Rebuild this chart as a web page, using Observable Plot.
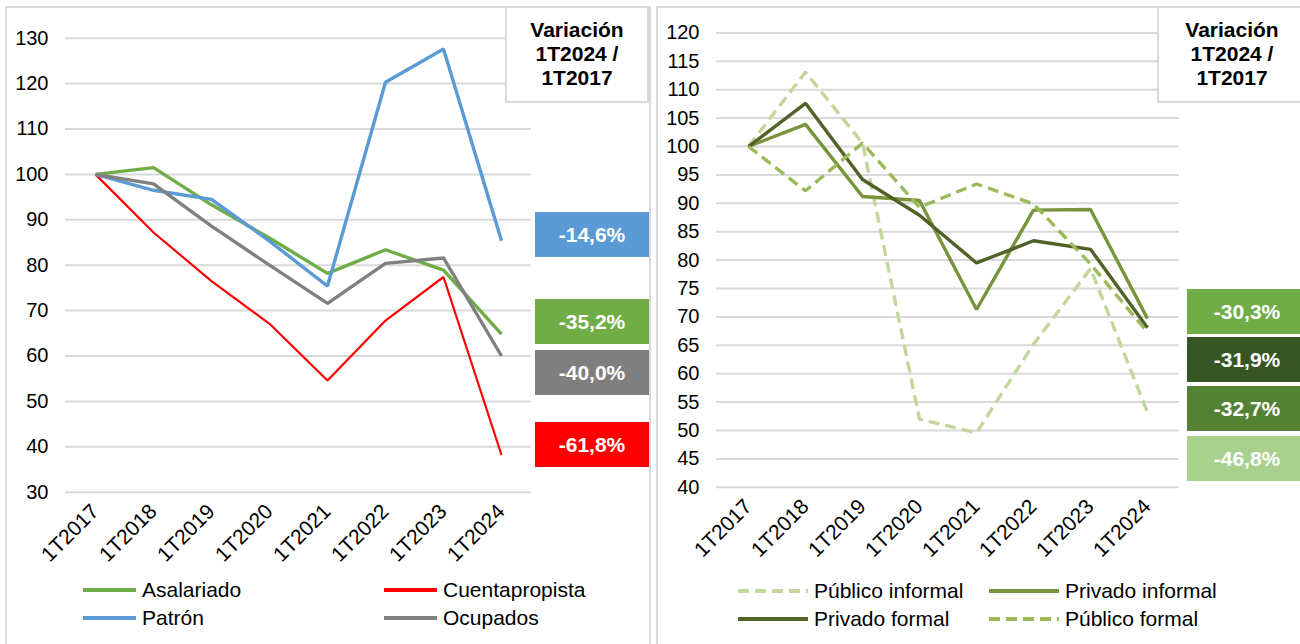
<!DOCTYPE html>
<html>
<head>
<meta charset="utf-8">
<script src="https://cdn.jsdelivr.net/npm/d3@7"></script>
<script src="https://cdn.jsdelivr.net/npm/@observablehq/plot@0.6"></script>
<style>
  html, body { margin: 0; padding: 0; background: #fff; }
  body { width: 1300px; height: 644px; position: relative; overflow: hidden;
         font-family: "Liberation Sans", Arial, sans-serif; color: #000; }
  .panel { position: absolute; top: 6px; height: 660px; box-sizing: border-box;
           border: 2px solid #d9d9d9; background: #fff; }
  .plot { position: absolute; top: 0; }
  .varbox { position: absolute; top: 6px; height: 97px; box-sizing: border-box;
            border: 2px solid #d9d9d9; background: #fff; text-align: center;
            font-weight: bold; font-size: 21px; line-height: 24px; padding-top: 10px; }
  .pbox { position: absolute; height: 45px; line-height: 45px; color: #fff;
          font-weight: bold; font-size: 21px; text-align: center; }
  .leg { position: absolute; height: 24px; display: flex; align-items: center;
         font-size: 21px; line-height: 24px; white-space: nowrap; }
  .leg svg { margin-right: 6px; }
</style>
</head>
<body>
<div class="panel" style="left:5px; width:646px;"></div>
<div class="panel" style="left:656px; width:660px;"></div>
<div id="left" class="plot" style="left:0px;"></div>
<div id="right" class="plot" style="left:650px;"></div>
<script>
// ---------------- DATA ----------------
const categories = ["1T2017","1T2018","1T2019","1T2020","1T2021","1T2022","1T2023","1T2024"];

// Left chart series
const leftNames = ["Asalariado", "Cuentapropista", "Patrón", "Ocupados"];
const asalariado     = [100, 101.5, 93.3, 86.0, 78.2, 83.4, 78.9, 64.8];
const cuentapropista = [100, 87.2, 76.5, 67.1, 54.6, 67.8, 77.4, 38.2];
const patron         = [100, 96.5, 94.5, 85.3, 75.4, 120.3, 127.6, 85.4];
const ocupados       = [100, 97.9, 88.6, 80.0, 71.6, 80.4, 81.6, 60.0];
const leftTicks = [30, 40, 50, 60, 70, 80, 90, 100, 110, 120, 130];

// Right chart series
const rightNames = ["Público informal", "Privado informal", "Privado formal", "Público formal"];
const publicoInformal = [100, 113.1, 100.6, 52.0, 49.6, 65.2, 78.5, 53.2];
const privadoInformal = [100, 103.9, 91.2, 90.5, 71.3, 88.8, 88.9, 69.7];
const privadoFormal   = [100, 107.6, 94.2, 87.9, 79.5, 83.4, 81.9, 68.1];
const publicoFormal   = [100, 92.2, 100.6, 89.3, 93.4, 89.9, 79.3, 67.3];
const rightTicks = [40, 45, 50, 55, 60, 65, 70, 75, 80, 85, 90, 95, 100, 105, 110, 115, 120];

const boxTitle = ["Variación", "1T2024 /", "1T2017"];

// ---------------- STYLES / LAYOUT ----------------
const FONT = "Liberation Sans, Arial, sans-serif";
const leftStyle = {
  "Asalariado":     {stroke: "#70ad47", width: 3.4, box: "#70ad47"},
  "Cuentapropista": {stroke: "#ff0000", width: 2.2, box: "#ff0000"},
  "Patrón":         {stroke: "#5b9bd5", width: 3.4, box: "#5b9bd5"},
  "Ocupados":       {stroke: "#808080", width: 3.4, box: "#7f7f7f"}
};
const rightStyle = {
  "Público informal": {stroke: "#c3d69b", width: 3.4, dash: "11,6", box: "#a9d18e"},
  "Privado informal": {stroke: "#77933c", width: 3.4, dash: null,   box: "#70ad47"},
  "Privado formal":   {stroke: "#4f6228", width: 3.4, dash: null,   box: "#375623"},
  "Público formal":   {stroke: "#9bbb59", width: 3.4, dash: "11,6", box: "#548235"}
};
// label placement (value units on each chart's y scale) for the variation boxes
const leftBoxAt  = {"Patrón": 86.6, "Asalariado": 67.5, "Ocupados": 56.2, "Cuentapropista": 40.5};
const rightBoxAt = {"Privado informal": 70.95, "Privado formal": 62.5, "Público formal": 53.8, "Público informal": 45.0};

function rows(names, arrays) {
  const out = [];
  names.forEach((n, k) => arrays[k].forEach((v, i) => out.push({serie: n, cat: categories[i], value: v})));
  return out;
}
const leftRows  = rows(leftNames, [asalariado, cuentapropista, patron, ocupados]);
const rightRows = rows(rightNames, [publicoInformal, privadoInformal, privadoFormal, publicoFormal]);
const leftArrays  = {"Asalariado": asalariado, "Cuentapropista": cuentapropista, "Patrón": patron, "Ocupados": ocupados};
const rightArrays = {"Público informal": publicoInformal, "Privado informal": privadoInformal, "Privado formal": privadoFormal, "Público formal": publicoFormal};

const fmtPct = (a) => {
  const p = (a[a.length - 1] / a[0] - 1) * 100;
  return (Math.round(p * 10) / 10).toFixed(1).replace(".", ",") + "%";
};

function makeChart({rowsData, names, styles, ticks, domain, mL, mR, mT, mB}) {
  const lineMarks = names.map(n => Plot.line(rowsData.filter(d => d.serie === n), {
    x: "cat", y: "value", stroke: styles[n].stroke, strokeWidth: styles[n].width,
    strokeDasharray: styles[n].dash || undefined, strokeLinejoin: "miter", strokeLinecap: "butt"
  }));
  return Plot.plot({
    width: 650, height: 644,
    marginLeft: mL, marginRight: mR, marginTop: mT, marginBottom: mB,
    x: {type: "point", domain: categories, padding: 0.5, axis: null},
    y: {domain, axis: null},
    style: {fontFamily: FONT, background: "transparent", color: "#000", overflow: "visible"},
    marks: [
      Plot.gridY(ticks, {stroke: "#d9d9d9", strokeOpacity: 1, strokeWidth: 2}),
      Plot.axisY(ticks, {tickSize: 0, tickPadding: 17, fontSize: 20, fill: "#000", label: null}),
      ...lineMarks,
      Plot.text(categories, {x: d => d, frameAnchor: "bottom", rotate: -45, textAnchor: "end",
        lineAnchor: "top", dx: -6, dy: 10, fontSize: 21, fill: "#000"})
    ]
  });
}

const leftChart = makeChart({rowsData: leftRows, names: leftNames, styles: leftStyle, ticks: leftTicks,
  domain: [30, 130], mL: 65, mR: 119, mT: 37.7, mB: 152.3});
const rightChart = makeChart({rowsData: rightRows, names: rightNames, styles: rightStyle, ticks: rightTicks,
  domain: [40, 120], mL: 66, mR: 121, mT: 32.4, mB: 157.2});
document.getElementById("left").appendChild(leftChart);
document.getElementById("right").appendChild(rightChart);

// Variation title boxes
function varBox(left, width) {
  const d = document.createElement("div");
  d.className = "varbox";
  d.style.left = left + "px"; d.style.width = width + "px";
  d.innerHTML = boxTitle.join("<br>");
  document.body.appendChild(d);
}
varBox(505, 144);
varBox(1157, 150);

// Percentage boxes, positioned through each chart's y scale
function pctBoxes(chart, offsetX, left, width, order, at, styles, arrays) {
  const y = chart.scale("y");
  order.forEach(n => {
    const cy = y.apply(at[n]);
    const d = document.createElement("div");
    d.className = "pbox";
    d.style.left = (offsetX + left) + "px"; d.style.width = width + "px";
    d.style.top = (cy - 22.5) + "px";
    d.style.background = styles[n].box;
    d.textContent = fmtPct(arrays[n]);
    document.body.appendChild(d);
  });
}
pctBoxes(leftChart, 0, 535, 114, ["Patrón", "Asalariado", "Ocupados", "Cuentapropista"], leftBoxAt, leftStyle, leftArrays);
pctBoxes(rightChart, 650, 537, 120, ["Privado informal", "Privado formal", "Público formal", "Público informal"], rightBoxAt, rightStyle, rightArrays);

// Legends
function legendItem(x, cy, len, name, st) {
  const d = document.createElement("div");
  d.className = "leg";
  d.style.left = x + "px"; d.style.top = (cy - 12) + "px";
  const dash = st.dash ? `stroke-dasharray="${st.dash}"` : "";
  d.innerHTML = `<svg width="${len}" height="8"><line x1="0" x2="${len}" y1="4" y2="4" stroke="${st.stroke}" stroke-width="4" ${dash}/></svg><span>${name}</span>`;
  document.body.appendChild(d);
}
legendItem(83, 590, 53, leftNames[0], leftStyle[leftNames[0]]);
legendItem(384, 590, 53, leftNames[1], leftStyle[leftNames[1]]);
legendItem(83, 618, 53, leftNames[2], leftStyle[leftNames[2]]);
legendItem(384, 618, 53, leftNames[3], leftStyle[leftNames[3]]);
legendItem(738, 591, 70, rightNames[0], rightStyle[rightNames[0]]);
legendItem(989, 591, 70, rightNames[1], rightStyle[rightNames[1]]);
legendItem(738, 619, 70, rightNames[2], rightStyle[rightNames[2]]);
legendItem(989, 619, 70, rightNames[3], rightStyle[rightNames[3]]);
</script>
</body>
</html>
